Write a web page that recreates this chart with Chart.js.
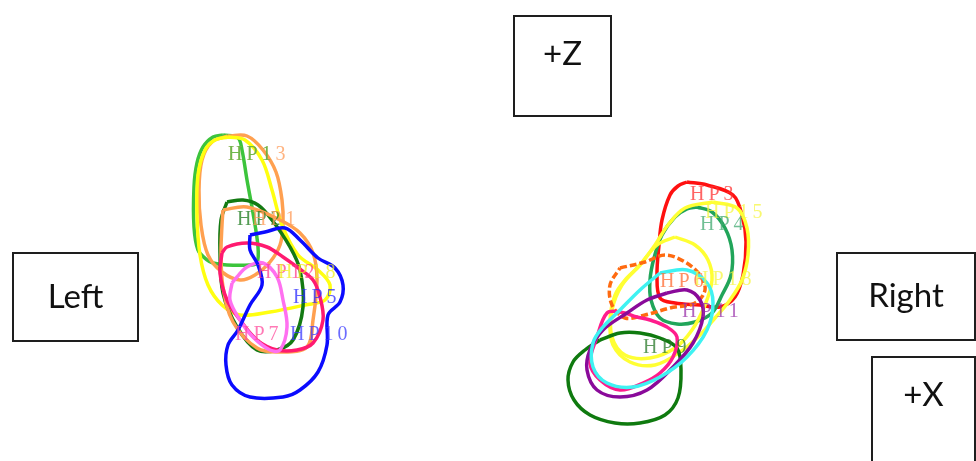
<!DOCTYPE html>
<html>
<head>
<meta charset="utf-8">
<script src="https://cdn.jsdelivr.net/npm/chart.js@4/dist/chart.umd.min.js"></script>
<style>
  html, body { margin: 0; padding: 0; background: #ffffff; }
  #wrap { position: relative; width: 976px; height: 461px; }
</style>
</head>
<body>
<div id="wrap"><canvas id="c"></canvas></div>
<script>
// Traced contours in the X–Z plane, units: cm (x to the right, z upward).
// Left-side contours
const hp13L = [[22.8,32.5],[24.7,32.5],[26.3,31.1],[27.6,28.9],[28.2,26.1],[28.3,23.6],[28.0,21.6],[27.0,19.9],[25.5,18.6],[24.0,18.1],[22.2,18.9],[20.8,20.6],[20.1,23.6],[19.9,27.1],[20.2,30.1],[21.2,31.9]];
const hp11L = [[22.3,32.6],[21.3,32.4],[20.3,31.4],[19.7,29.8],[19.4,27.4],[19.4,23.4],[19.8,21.1],[20.7,20.1],[21.3,19.8],[22.7,19.6],[25.0,19.6],[25.7,19.8],[25.8,21.4],[25.3,24.8],[24.7,28.1],[24.2,31.1],[23.8,32.3]];
const hp18L = [[22.8,32.4],[24.5,32.1],[26.2,30.1],[27.2,27.1],[28.2,23.6],[29.8,20.6],[31.8,19.1],[33.0,17.6],[32.5,16.1],[30.5,15.6],[27.0,14.9],[24.0,14.6],[22.2,15.6],[20.8,17.6],[20.0,20.6],[19.7,24.6],[19.8,28.6],[20.5,31.1],[21.5,32.1]];
const hp2L  = [[22.7,25.9],[24.3,26.1],[25.8,25.6],[27.2,24.1],[29.0,21.4],[30.0,19.1],[30.3,15.4],[29.3,12.1],[27.7,11.1],[25.7,11.1],[23.7,13.4],[22.3,16.8],[22.0,20.8],[22.1,24.1]];
const hp1L  = [[22.3,25.1],[24.7,25.4],[28.0,24.1],[30.0,22.8],[31.3,20.8],[31.7,18.1],[31.3,14.1],[30.7,11.4],[28.0,10.9],[25.7,11.3],[23.3,13.9],[22.3,17.4],[22.1,20.8],[22.2,23.6]];
const hp12L = [[22.2,20.8],[22.7,21.4],[24.7,21.8],[26.7,21.4],[28.3,20.4],[29.7,19.4],[31.3,18.1],[32.0,16.4],[32.3,14.1],[31.3,11.8],[29.7,11.1],[27.7,11.1],[25.7,12.1],[24.0,14.1],[22.7,16.1],[22.0,18.8]];
const hp7L  = [[23.2,17.8],[23.7,18.4],[24.7,19.4],[26.3,19.8],[27.7,18.4],[28.3,16.1],[28.7,13.4],[28.0,11.1],[27.0,11.1],[25.3,12.4],[24.0,14.1],[23.0,16.1]];
const hp10L = [[25.0,22.6],[26.5,22.9],[28.5,23.3],[30.0,22.1],[31.8,20.3],[33.5,19.3],[34.3,17.6],[34.0,15.9],[32.8,14.6],[32.7,11.6],[31.8,8.9],[30.0,7.1],[28.3,6.4],[25.0,6.4],[23.2,7.6],[22.6,9.6],[22.8,11.6],[23.8,13.1],[25.0,15.6],[26.2,17.6],[25.8,19.6],[25.0,21.1]];

// Right-side contours
const hp3R  = [[68.7,27.9],[70.7,27.6],[73.3,26.6],[74.2,24.6],[74.6,21.9],[74.3,18.6],[73.5,16.4],[72.0,15.4],[70.0,15.6],[67.5,15.8],[66.0,16.3],[65.7,18.6],[65.9,21.6],[66.2,24.1],[67.0,26.6],[67.8,27.5]];
const hp4R  = [[69.7,25.4],[71.2,24.9],[72.5,23.3],[73.2,21.1],[73.1,18.6],[72.2,16.6],[71.2,14.8],[69.5,13.9],[67.7,13.7],[66.0,14.3],[65.1,16.1],[65.0,18.1],[65.4,20.3],[66.2,22.6],[67.5,24.4],[68.7,25.2]];
const hp15R = [[71.3,25.9],[73.7,25.3],[74.7,23.3],[74.8,20.6],[74.2,18.1],[73.0,16.1],[71.5,14.3],[70.0,12.6],[68.0,10.9],[65.5,9.6],[63.0,9.9],[61.3,11.6],[61.0,14.1],[61.5,16.6],[62.5,18.1],[64.0,19.6],[65.5,21.6],[66.8,23.6],[68.5,25.3]];
const hp18R = [[67.5,22.4],[69.5,21.6],[70.8,20.1],[71.2,18.1],[70.5,15.6],[69.2,13.1],[67.5,11.3],[65.0,10.3],[62.5,10.6],[61.2,12.4],[61.2,15.1],[62.2,17.6],[64.0,19.6],[65.7,21.6]];
const hp6R  = [[62.0,19.3],[64.5,19.9],[66.5,20.6],[68.5,19.9],[70.0,18.6],[70.5,17.1],[69.5,15.8],[67.0,15.3],[64.5,14.6],[62.5,14.3],[61.2,15.6],[61.0,17.6]];
const hp9R  = [[60.0,12.1],[62.0,12.8],[64.0,12.8],[66.0,12.3],[67.7,11.3],[68.1,9.1],[67.8,6.3],[66.5,4.6],[64.0,3.8],[61.5,3.8],[59.0,4.6],[57.4,6.1],[56.8,8.1],[57.3,9.9],[58.5,11.1]];
const hp14R = [[63.7,14.4],[65.0,14.1],[66.7,13.4],[67.7,12.4],[67.3,10.4],[66.0,8.8],[64.3,7.8],[62.0,7.1],[60.0,8.1],[59.0,9.8],[59.7,12.4],[60.7,14.8],[62.0,14.9]];
const hp11R = [[66.7,16.8],[68.7,17.1],[70.0,16.1],[70.3,14.4],[69.3,11.8],[67.3,9.4],[64.7,7.1],[62.0,6.4],[59.7,7.1],[58.7,9.1],[59.0,11.1],[60.3,13.1],[62.7,14.8],[64.7,16.1]];
const hp2R  = [[66.0,18.8],[68.7,19.1],[70.7,17.8],[71.3,15.8],[70.7,13.1],[68.7,10.4],[66.0,8.4],[63.3,7.4],[60.7,7.8],[59.3,9.4],[59.3,11.8],[60.3,13.4],[62.0,15.1],[64.0,17.1]];

// Contour label text and anchor (x, z of the text baseline start)
const labelNames = ["HP13","HP1","HP2","HP1","HP12","HP18","HP5","HP7","HP10",
                    "HP3","HP15","HP4","HP6","HP18","HP11","HP9"];
const labelX = [22.8,22.8,23.7,25.2,25.7,27.8,29.3,23.5,29.0, 69.0,70.5,70.0,66.0,69.4,68.2,64.3];
const labelZ = [30.1,30.1,23.6,23.6,18.3,18.3,15.8,12.1,12.1, 26.1,24.3,23.1,17.4,17.6,14.4,10.8];

// Orientation panels: text and extents (xMin, xMax, zTop, zBottom)
const panelText = ["+Z","Left","Right","+X"];
const panelBox  = [[51.4,61.1,44.5,34.5],[1.3,13.8,20.8,12.0],[83.7,97.5,20.8,12.1],[87.2,97.5,10.4,-1.0]];

// ---- styling ----
const series = [
  // right (listed first = drawn on top)
  { data: hp2R,  color: "#3ff2f2" },
  { data: hp11R, color: "#8a0a9a" },
  { data: hp14R, color: "#ff1c8c" },
  { data: hp9R,  color: "#0f7a0f" },
  { data: hp6R,  color: "#ff6a10", dash: [7, 3] },
  { data: hp18R, color: "#ffff33" },
  { data: hp15R, color: "#ffff33" },
  { data: hp4R,  color: "#21a55a" },
  { data: hp3R,  color: "#ff1010" },
  // left
  { data: hp10L, color: "#0b0bff" },
  { data: hp7L,  color: "#ff70f0" },
  { data: hp12L, color: "#ff1a70" },
  { data: hp1L,  color: "#ffa050" },
  { data: hp2L,  color: "#137a13" },
  { data: hp18L, color: "#ffff10" },
  { data: hp13L, color: "#ffa050" },
  { data: hp11L, color: "#3cc43c" }
];
const labelColors = ["#ff9a55","#3cba3c","#1a7a1a","#ff9a55","#ff3c8c","#f0f020","#2a2aff","#ff4c9c","#3a3aff",
                     "#ff3030","#f5f540","#40aa70","#ff6a30","#f5f540","#9a30aa","#2a7a2a"];

const close = pts => pts.concat([pts[0]]).map(p => ({ x: p[0], y: p[1] }));

const overlay = {
  id: "overlay",
  afterDatasetsDraw(chart) {
    const { ctx, scales } = chart;
    const X = v => scales.x.getPixelForValue(v);
    const Z = v => scales.y.getPixelForValue(v);
    ctx.save();
    // contour labels
    ctx.font = "20px 'Liberation Serif', serif";
    ctx.letterSpacing = "4px";
    ctx.textBaseline = "alphabetic";
    ctx.globalAlpha = 0.75;
    labelNames.forEach((t, i) => {
      ctx.fillStyle = labelColors[i];
      ctx.fillText(t, X(labelX[i]), Z(labelZ[i]));
    });
    ctx.restore();
    // orientation panels
    ctx.save();
    ctx.strokeStyle = "#1e1e1e";
    ctx.lineWidth = 2;
    ctx.fillStyle = "#111111";
    ctx.font = "33px Lato, sans-serif";
    ctx.textAlign = "center";
    ctx.textBaseline = "middle";
    panelBox.forEach((b, i) => {
      const x0 = X(b[0]), x1 = X(b[1]), y0 = Z(b[2]), y1 = Z(b[3]);
      ctx.strokeRect(x0, y0, x1 - x0, y1 - y0);
      const cy = (i === 0 || i === 3) ? y0 + 38 : (y0 + y1) / 2;
      ctx.fillText(panelText[i], (x0 + x1) / 2, cy);
    });
    ctx.restore();
  }
};

new Chart(document.getElementById("c"), {
  type: "scatter",
  data: {
    datasets: series.map(s => ({
      data: close(s.data),
      showLine: true,
      fill: false,
      borderColor: s.color,
      borderWidth: 3.5,
      borderDash: s.dash || [],
      tension: 0.35,
      pointRadius: 0,
      pointHoverRadius: 0
    }))
  },
  options: {
    responsive: true,
    maintainAspectRatio: false,
    animation: false,
    layout: { padding: 0 },
    plugins: { legend: { display: false }, tooltip: { enabled: false } },
    scales: {
      x: { type: "linear", min: 0, max: 97.6, display: false },
      y: { type: "linear", min: 0, max: 46.1, display: false }
    }
  },
  plugins: [overlay]
});
</script>
</body>
</html>
